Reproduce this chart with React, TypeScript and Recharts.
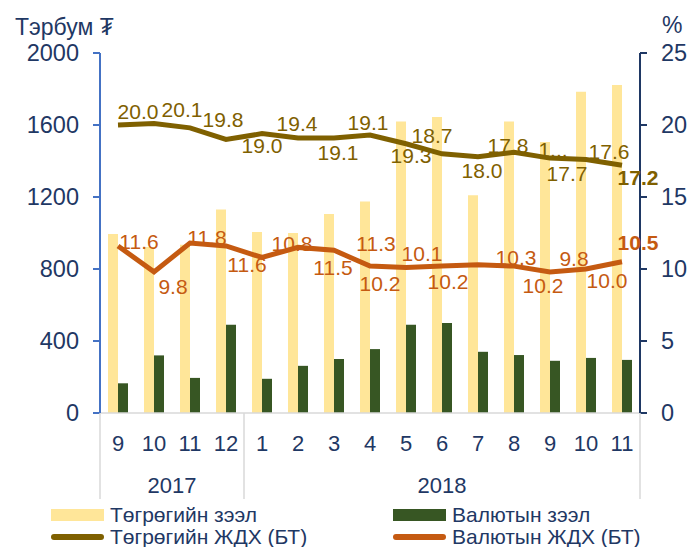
import React from 'react';
import {
    ComposedChart,
    Bar,
    Line,
    XAxis,
    YAxis,
    Legend,
    LabelList,
    Customized
} from 'recharts';

// Monthly values, Sep 2017 - Nov 2018
const MONTHS = ['9', '10', '11', '12', '1', '2', '3', '4', '5', '6', '7', '8', '9', '10', '11'];
const YEARS = ['2017', '2017', '2017', '2017', '2018', '2018', '2018', '2018', '2018', '2018', '2018', '2018', '2018', '2018', '2018'];

// Loans, bn MNT (left axis)
const MNT_LOANS = [995, 922, 935, 1130, 1005, 1000, 1105, 1175, 1620, 1645, 1210, 1620, 1505, 1785, 1822];
const FX_LOANS = [165, 320, 195, 490, 190, 262, 300, 355, 490, 500, 340, 322, 290, 306, 295];

// Weighted average rates, % (right axis)
const MNT_RATE = [20.0, 20.1, 19.8, 19.0, 19.4, 19.1, 19.1, 19.3, 18.7, 18.0, 17.8, 18.1, 17.7, 17.6, 17.2];
const FX_RATE = [11.6, 9.8, 11.8, 11.6, 10.8, 11.5, 11.3, 10.2, 10.1, 10.2, 10.3, 10.2, 9.8, 10.0, 10.5];

const LEFT_TICKS = [0, 400, 800, 1200, 1600, 2000];
const RIGHT_TICKS = [0, 5, 10, 15, 20, 25];

// data label offsets from their point (the labels were nudged by hand in the original)
const MNT_LABEL_DX = [20, 28, 33, 36, 35, 40, 34, 41, 26, 40, 30, 39, 17, 23, 16];
const MNT_LABEL_DY = [-14, -14, -8, 6, -10, 14, -16, 20, -8, 17, -11, -3, 15, -8, 12];
const FX_LABEL_DX = [21, 19, 17, 21, 30, 35, 42, 10, 16, 6, 38, 29, 24, 21, 16];
const FX_LABEL_DY = [-5, 15, -6, 18, -14, 20, -7, 17, -14, 15, -7, 19, -13, 11, -19];
const TRUNCATED_LABEL = 11;

const FONT = '"Liberation Sans", Arial, sans-serif';
const NAVY = '#1F3864';
const YELLOW = '#FFE699';
const GREEN = '#375623';
const OLIVE = '#7F6000';
const ORANGE = '#C55A11';

const WIDTH = 699;
const HEIGHT = 547;
const LEFT_W = 100;
const RIGHT_W = 59;
const BAND = (WIDTH - LEFT_W - RIGHT_W) / MONTHS.length;

const chartData = MONTHS.map((m, i) => ({
    month: m,
    year: YEARS[i],
    mntLoan: MNT_LOANS[i],
    fxLoan: FX_LOANS[i],
    mntRate: MNT_RATE[i],
    fxRate: FX_RATE[i]
}));

const MonthTick = (props: any) => {
    const { x, y, index, payload } = props;
    const year = YEARS[index];
    const groupStart = index === 0 || YEARS[index - 1] !== year;
    const isLast = index === MONTHS.length - 1;
    const groupLen = YEARS.filter(v => v === year).length;
    const left = x - BAND / 2;
    return (
        <g>
            {groupStart && <line x1={left} x2={left} y1={y} y2={y + 86} stroke="#D9D9D9" strokeWidth={1.5} />}
            {isLast && <line x1={x + BAND / 2} x2={x + BAND / 2} y1={y} y2={y + 86} stroke="#D9D9D9" strokeWidth={1.5} />}
            <text x={x} y={y + 38} textAnchor="middle" fill={NAVY} fontSize={22} fontFamily={FONT}>
                {payload.value}
            </text>
            {groupStart && (
                <text x={left + (groupLen * BAND) / 2} y={y + 80} textAnchor="middle" fill={NAVY} fontSize={22} fontFamily={FONT}>
                    {year}
                </text>
            )}
        </g>
    );
};

const rateLabel = (dxs: number[], dys: number[], color: string, truncate: boolean) => (props: any) => {
    const { x, y, value, index } = props;
    const last = index === MONTHS.length - 1;
    const text = truncate && index === TRUNCATED_LABEL ? '1...' : Number(value).toFixed(1);
    return (
        <text
            x={x + dxs[index]}
            y={y + dys[index]}
            dy="0.36em"
            textAnchor="middle"
            fill={color}
            fontSize={21}
            fontFamily={FONT}
            fontWeight={last ? 'bold' : 'normal'}
        >
            {text}
        </text>
    );
};

const LegendBox = () => {
    const items = [
        { label: 'Төгрөгийн зээл', color: YELLOW, kind: 'rect', left: 51, top: 14 },
        { label: 'Валютын зээл', color: GREEN, kind: 'rect', left: 393, top: 14 },
        { label: 'Төгрөгийн ЖДХ (БТ)', color: OLIVE, kind: 'line', left: 51, top: 36 },
        { label: 'Валютын ЖДХ (БТ)', color: ORANGE, kind: 'line', left: 393, top: 36 }
    ];
    return (
        <div style={{ position: 'relative', width: WIDTH, height: 46, fontFamily: FONT, fontSize: 21, color: NAVY }}>
            {items.map(it => (
                <div key={it.label} style={{ position: 'absolute', left: it.left, top: it.top - 12, height: 24, display: 'flex', alignItems: 'center', whiteSpace: 'nowrap' }}>
                    <span
                        style={{
                            display: 'inline-block',
                            width: 53,
                            height: it.kind === 'rect' ? 12 : 6,
                            borderRadius: it.kind === 'rect' ? 0 : 3,
                            background: it.color,
                            marginRight: 6
                        }}
                    />
                    <span>{it.label}</span>
                </div>
            ))}
        </div>
    );
};

const Titles = () => (
    <g fontFamily={FONT} fill={NAVY} fontSize={23}>
        <text x={15} y={35}>Тэрбум ₮</text>
        <text x={662} y={33}>%</text>
    </g>
);

export default function App() {
    return (
        <div style={{ position: 'absolute', left: 0, top: 0, background: '#fff' }}>
            <ComposedChart
                width={WIDTH}
                height={HEIGHT}
                data={chartData}
                margin={{ top: 53, right: 0, bottom: 0, left: 0 }}
                barGap={0}
            >
                <XAxis
                    dataKey="month"
                    xAxisId={0}
                    interval={0}
                    height={88}
                    tickLine={false}
                    tickSize={0}
                    tickMargin={0}
                    axisLine={{ stroke: '#D9D9D9', strokeWidth: 1.5 }}
                    tick={<MonthTick />}
                />
                <YAxis
                    yAxisId="left"
                    width={LEFT_W}
                    domain={[0, 2000]}
                    ticks={LEFT_TICKS}
                    interval={0}
                    axisLine={{ stroke: '#4472C4', strokeWidth: 2 }}
                    tickLine={{ stroke: '#4472C4', strokeWidth: 2 }}
                    tickSize={7}
                    tickMargin={14}
                    tick={{ fill: NAVY, fontSize: 23.5, fontFamily: FONT }}
                />
                <YAxis
                    yAxisId="right"
                    orientation="right"
                    width={RIGHT_W}
                    domain={[0, 25]}
                    ticks={RIGHT_TICKS}
                    interval={0}
                    axisLine={{ stroke: NAVY, strokeWidth: 2 }}
                    tickLine={{ stroke: NAVY, strokeWidth: 2 }}
                    tickSize={7}
                    tickMargin={14}
                    tick={{ fill: NAVY, fontSize: 23.5, fontFamily: FONT, textAnchor: 'start' }}
                />
                <Legend verticalAlign="bottom" align="left" content={() => <LegendBox />} />
                <Bar yAxisId="left" dataKey="mntLoan" name="Төгрөгийн зээл" fill={YELLOW} barSize={10} isAnimationActive={false} />
                <Bar yAxisId="left" dataKey="fxLoan" name="Валютын зээл" fill={GREEN} barSize={10} isAnimationActive={false} />
                <Line yAxisId="right" dataKey="mntRate" name="Төгрөгийн ЖДХ (БТ)" stroke={OLIVE} strokeWidth={5} dot={false} type="linear" isAnimationActive={false}>
                    <LabelList dataKey="mntRate" content={rateLabel(MNT_LABEL_DX, MNT_LABEL_DY, OLIVE, true)} />
                </Line>
                <Line yAxisId="right" dataKey="fxRate" name="Валютын ЖДХ (БТ)" stroke={ORANGE} strokeWidth={5} dot={false} type="linear" isAnimationActive={false}>
                    <LabelList dataKey="fxRate" content={rateLabel(FX_LABEL_DX, FX_LABEL_DY, ORANGE, false)} />
                </Line>
                <Customized component={Titles} />
            </ComposedChart>
        </div>
    );
}
